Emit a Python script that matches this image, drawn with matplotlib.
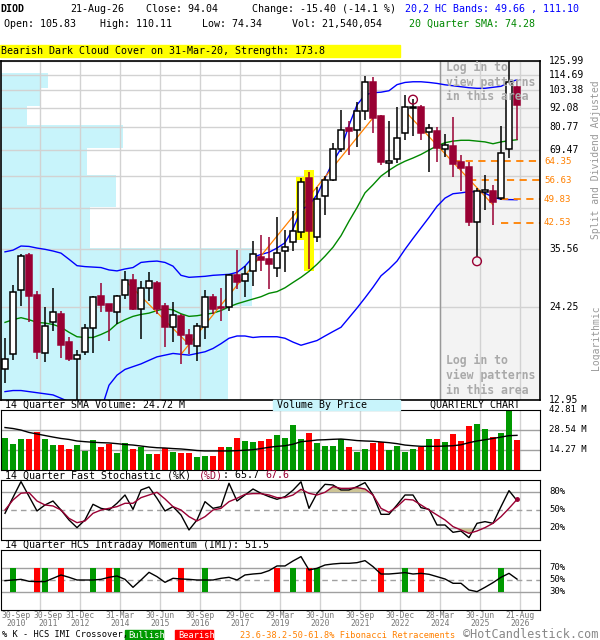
import numpy as np
import matplotlib
matplotlib.use("Agg")
import matplotlib.pyplot as plt
from matplotlib.patches import Rectangle
from matplotlib.ticker import NullLocator

plt.rcParams["font.family"] = "DejaVu Sans Mono"

# quarterly candles, 30-Sep-2010 .. 21-Aug-2026 (65 quarters)
opens = [15.9, 17.6, 27.1, 34.3, 26.2, 17.7, 21.9, 23.1, 19.1, 17.1,
         17.9, 21.0, 26.1, 24.6, 23.4, 26.2, 28.9, 23.9, 27.5, 28.4,
         24.4, 21.2, 22.7, 20.0, 18.6, 21.2, 25.8, 24.2, 24.1, 30.0,
         28.7, 30.7, 33.8, 33.3, 31.5, 35.2, 37.4, 40.0, 57.6, 38.7,
         50.75, 56.7, 70.0, 80.3, 79.1, 89.8, 109.1, 86.9, 63.6, 65.2,
         77.6, 92.0, 92.4, 78.2, 78.6, 70.0, 71.3, 63.8, 62.0, 42.8,
         52.4, 52.5, 50.2, 69.7, 105.83]
highs = [19.6, 28.0, 34.4, 34.8, 26.95, 24.2, 27.4, 23.5, 19.8, 18.1,
         21.6, 26.1, 28.4, 24.7, 26.2, 30.8, 30.1, 28.7, 30.6, 28.8,
         24.9, 25.0, 23.1, 20.9, 21.7, 27.1, 26.4, 27.5, 30.1, 35.4,
         31.8, 37.6, 39.1, 38.6, 44.1, 40.6, 45.9, 57.3, 59.9, 54.2,
         58.4, 72.7, 90.4, 84.0, 95.5, 113.6, 112.8, 87.4, 84.0, 92.4,
         100.1, 97.7, 93.5, 82.7, 81.0, 77.4, 86.4, 67.0, 64.1, 53.6,
         58.6, 54.9, 81.4, 128.0, 110.11]
lows = [14.5, 16.9, 24.3, 21.8, 17.1, 16.7, 20.6, 17.2, 16.8, 12.5,
        17.5, 17.8, 23.4, 19.2, 21.6, 25.5, 23.7, 19.5, 25.2, 23.1,
        18.5, 19.1, 16.5, 17.6, 16.8, 19.5, 23.1, 22.0, 23.6, 27.3,
        25.9, 27.9, 30.8, 27.3, 29.6, 30.6, 35.2, 38.4, 31.2, 37.4,
        44.9, 56.4, 68.2, 67.2, 70.8, 84.6, 77.9, 62.7, 58.0, 63.4,
        74.0, 76.2, 74.0, 59.9, 63.8, 66.2, 58.0, 52.5, 41.6, 33.7,
        46.4, 42.0, 49.7, 65.5, 74.34]
closes = [17.1, 26.8, 34.0, 26.0, 17.9, 21.3, 23.3, 18.7, 17.0, 17.5,
          21.0, 25.8, 24.5, 23.5, 26.1, 28.9, 23.8, 27.4, 28.7, 23.9,
          21.2, 22.9, 20.0, 18.8, 21.35, 25.8, 23.9, 24.0, 30.0, 28.5,
          30.2, 34.4, 33.2, 32.2, 34.7, 36.2, 40.2, 56.1, 40.2, 49.8,
          56.5, 70.0, 79.1, 78.9, 89.8, 109.1, 86.0, 64.1, 64.4, 75.3,
          92.4, 92.6, 77.9, 80.2, 70.3, 71.6, 63.3, 61.3, 42.8, 52.7,
          53.0, 48.9, 67.9, 109.44, 94.04]

# volume, millions of shares
volume = [23.0, 18.6, 22.3, 22.3, 27.3, 22.3, 17.8, 17.8, 15.2, 17.8,
          13.8, 21.4, 16.4, 18.8, 12.1, 19.3, 15.2, 16.4, 11.4, 11.4,
          15.5, 12.8, 12.1, 12.1, 9.5, 10.0, 10.0, 16.4, 16.4, 22.8,
          20.7, 20.0, 20.7, 22.3, 25.0, 23.0, 32.1, 22.3, 26.4, 19.5,
          17.1, 17.1, 21.9, 16.4, 13.1, 15.2, 19.3, 20.2, 14.3, 17.1,
          13.1, 15.2, 16.6, 22.3, 22.3, 20.0, 25.7, 20.7, 31.6, 32.8,
          29.5, 23.5, 26.4, 44.5, 21.54]
vol_sma = [30.3, 29.6, 28.5, 26.8, 25.7, 24.6, 23.5, 22.5, 21.8, 20.7,
           20.2, 19.8, 19.5, 19.3, 18.8, 18.2, 17.8, 17.1, 16.4, 15.9,
           15.7, 15.3, 15.0, 14.5, 13.9, 13.6, 13.6, 13.6, 13.6, 13.8,
           14.1, 14.5, 15.3, 16.2, 16.9, 17.3, 18.4, 20.2, 20.7, 21.4,
           21.6, 21.9, 22.1, 21.6, 21.0, 20.7, 20.5, 20.0, 19.5, 18.8,
           17.8, 17.3, 16.9, 16.9, 16.9, 17.1, 17.3, 18.0, 19.5, 20.7,
           21.6, 22.5, 23.5, 24.5, 24.72]

hc_upper = [35.0, 35.4, 36.4, 36.3, 35.9, 35.6, 35.2, 34.7, 33.3, 31.9,
            31.7, 31.6, 31.5, 31.0, 30.8, 31.2, 31.5, 32.6, 32.8, 32.9,
            32.6, 31.8, 29.9, 29.5, 29.6, 29.7, 29.9, 30.0, 30.1, 30.5,
            31.8, 33.8, 34.4, 34.9, 35.9, 37.2, 40.8, 46.4, 47.8, 51.4,
            57.3, 64.1, 70.0, 81.8, 93.8, 100.4, 101.8, 102.2, 103.2, 107.5,
            109.1, 109.6, 109.6, 109.1, 108.4, 107.4, 106.7, 106.0, 105.3, 104.9,
            104.9, 105.6, 106.3, 109.1, 111.10]
hc_lower = [13.7, 13.8, 13.8, 13.7, 13.6, 13.5, 13.4, 13.1, 12.8, 12.5,
            12.3, 12.1, 12.1, 14.3, 15.3, 15.9, 16.2, 16.5, 16.9, 17.3,
            17.5, 17.7, 17.6, 17.5, 17.7, 17.9, 18.3, 18.9, 19.6, 19.9,
            19.9, 19.7, 19.8, 19.8, 19.8, 19.6, 19.1, 18.7, 19.0, 19.3,
            19.9, 20.5, 21.1, 22.5, 24.0, 25.7, 27.6, 29.8, 31.2, 32.9,
            35.6, 38.3, 41.1, 44.1, 47.5, 50.2, 51.7, 52.0, 52.4, 52.4,
            51.9, 50.5, 49.8, 49.7, 49.66]
sma20 = [21.8, 22.2, 22.5, 22.2, 21.8, 21.7, 21.5, 21.1, 20.4, 19.8,
         19.7, 19.7, 20.1, 20.6, 21.6, 22.2, 22.7, 23.0, 23.2, 23.6,
         23.9, 23.7, 23.1, 22.7, 22.8, 23.0, 23.2, 23.6, 24.2, 24.7,
         25.1, 25.5, 25.9, 26.5, 26.8, 27.5, 28.5, 29.5, 30.7, 32.2,
         34.0, 36.1, 39.0, 43.0, 47.1, 52.0, 54.9, 58.2, 60.5, 62.6,
         64.3, 65.7, 67.3, 69.3, 71.3, 72.8, 73.6, 74.0, 74.0, 73.6,
         73.2, 72.3, 73.2, 73.8, 74.28]

stoch_k = [44.5, 71.0, 97.3, 72.8, 48.4, 58.4, 65.0, 50.0, 33.4, 20.6,
           33.4, 59.5, 52.8, 50.0, 61.2, 75.0, 51.1, 83.4, 88.4, 69.5,
           48.4, 55.6, 41.7, 16.7, 33.4, 63.9, 52.8, 55.6, 94.5, 65.0,
           75.0, 85.0, 77.8, 72.3, 67.8, 72.3, 83.0, 97.0, 52.8, 77.8,
           92.8, 91.7, 83.4, 83.4, 88.9, 95.6, 75.0, 42.8, 42.8, 58.4,
           75.0, 75.0, 53.9, 51.1, 25.0, 25.0, 12.8, 15.0, 3.9, 27.8,
           30.6, 27.8, 55.6, 82.3, 65.7]
stoch_d = [50.0, 66.7, 78.0, 79.0, 65.0, 58.4, 56.7, 50.0, 36.1, 28.9,
           31.7, 44.5, 50.0, 52.8, 55.6, 61.2, 61.2, 70.6, 75.0, 79.5,
           68.4, 55.6, 50.0, 38.9, 31.7, 38.9, 50.0, 52.8, 63.9, 69.5,
           76.1, 77.3, 77.3, 75.0, 70.6, 70.6, 75.0, 84.5, 77.8, 75.0,
           79.5, 88.9, 86.1, 86.1, 87.3, 85.0, 75.0, 52.8, 46.1, 55.6,
           67.8, 66.7, 58.4, 50.0, 41.7, 33.4, 22.3, 16.7, 11.1, 15.0,
           20.6, 27.8, 38.9, 52.8, 67.6]
imi = [48.9, 50.0, 51.1, 47.8, 47.3, 47.3, 52.8, 58.4, 54.5, 50.0,
       50.0, 50.0, 51.1, 54.5, 56.7, 51.1, 37.8, 50.0, 62.8, 55.6,
       46.1, 52.8, 51.7, 51.1, 50.0, 50.0, 50.0, 52.8, 54.5, 50.0,
       58.4, 60.0, 61.1, 65.6, 73.4, 73.4, 81.7, 89.0, 66.7, 69.5,
       75.0, 76.7, 77.8, 77.8, 78.9, 82.3, 72.3, 60.0, 60.0, 61.1,
       62.3, 60.0, 61.1, 59.5, 55.6, 51.7, 44.5, 44.5, 33.4, 30.6,
       37.8, 45.6, 54.5, 61.1, 51.5]
bull_cross = [1, 5, 11, 14, 25, 36, 39, 50, 62]
bear_cross = [4, 7, 13, 22, 34, 38, 47, 52]

price_levels = [12.95, 24.25, 35.56, 46.86, 58.17, 69.47, 80.77, 92.08, 103.38, 114.69, 125.99]
price_labels = [12.95, 24.25, 35.56, 69.47, 80.77, 92.08, 103.38, 114.69, 125.99]
vbp_share = [42.2, 46.5, 16.6, 21.3, 16.0, 22.6, 4.8, 7.4, 8.7, 0.0]  # % of panel width per price band

fib_levels = [64.35, 56.63, 49.83, 42.53]
fib_from = [56, 58, 62, 62]
trend_lines = [((15, 28.9), (23, 18.8)), ((22, 17.6), (46, 86.0)), ((50, 90.0), (61, 48.0))]
circle_high = [51]
circle_low = [59]
pattern_idx = [37, 38]

date_labels = ["30-Sep\n2010", "30-Sep\n2011", "31-Dec\n2012", "31-Mar\n2014", "30-Jun\n2015",
               "30-Sep\n2016", "29-Dec\n2017", "29-Mar\n2019", "30-Jun\n2020", "30-Sep\n2021",
               "30-Dec\n2022", "28-Mar\n2024", "30-Jun\n2025", "21-Aug\n2026"]

DARK_RED = "#990033"
W, H = 600, 640
FS = 7.2
n = len(closes)
x = np.arange(n)
XLIM = (-0.5, 66.875)
grid_x = [5 * k - 0.625 for k in range(1, 14)]
label_x = [1.35, 5.375] + grid_x[1:]


def px_rect(x0, y0, x1, y1):
    return [x0 / W, 1 - y1 / H, (x1 - x0) / W, (y1 - y0) / H]


def ftext(px, py, s, **kw):
    kw.setdefault("fontsize", FS)
    kw.setdefault("va", "center")
    return fig.text(px / W, 1 - py / H, s, **kw)


def frect(x0, y0, x1, y1, color):
    fig.patches.append(Rectangle((x0 / W, 1 - y1 / H), (x1 - x0) / W, (y1 - y0) / H,
                                 transform=fig.transFigure, color=color, zorder=0))


def right_label(ax, v, s, color="black", size=FS, px_off=9):
    ax.text(1 + px_off / 539, v, s, transform=ax.get_yaxis_transform(), va="center",
            ha="left", fontsize=size, color=color, clip_on=False)


fig = plt.figure(figsize=(6, 6.4), dpi=100)

# ---- header
ftext(0, 9, "DIOD", fontweight="bold")
ftext(70, 9, "21-Aug-26")
ftext(146, 9, "Close: 94.04")
ftext(252, 9, "Change: -15.40 (-14.1 %)")
ftext(405, 9, "20,2 HC Bands: 49.66 , 111.10", color="#0000ff")
ftext(4, 24, "Open: 105.83")
ftext(100, 24, "High: 110.11")
ftext(202, 24, "Low: 74.34")
ftext(292, 24, "Vol: 21,540,054")
ftext(409, 24, "20 Quarter SMA: 74.28", color="#008800")
frect(0, 45, 400, 57, "#ffff00")
ftext(1, 51, "Bearish Dark Cloud Cover on 31-Mar-20, Strength: 173.8")

# ---- main price panel
main_rect = px_rect(1, 61, 540, 400)
ax_vbp = fig.add_axes(main_rect)
ax_vbp.set_yscale("log")
ax_vbp.set_ylim(12.95, 124.1)
ax_vbp.set_xlim(0, 100)
ax_vbp.barh(price_levels[:-1], vbp_share, height=np.diff(price_levels), align="edge",
            color="#c8f4fb", linewidth=0)
ax_vbp.axis("off")

ax = fig.add_axes(main_rect)
ax.patch.set_visible(False)
ax.set_yscale("log")
ax.set_ylim(12.95, 124.1)
ax.set_xlim(*XLIM)
ax.set_yticks(price_levels)
ax.yaxis.set_minor_locator(NullLocator())
ax.set_yticklabels([])
ax.set_xticks(grid_x)
ax.set_xticklabels([])
ax.tick_params(length=0)
ax.set_axisbelow(True)
ax.grid(color="#d2d2d2", lw=1)

ax.axvspan(grid_x[10], XLIM[1], color="#f3f3f3", zorder=0.2, lw=0)
ax.axvline(grid_x[10], color="#999999", lw=1, zorder=0.6)
for py in (66, 359):
    for j, line in enumerate(["Log in to", "view patterns", "in this area"]):
        ftext(446, py + 15 * j + 1, line, color="#a9a9a9", fontsize=8.3, fontweight="bold")

# pattern highlight
for i in pattern_idx:
    ax.bar(i, highs[i] * 1.012 - lows[i] * 0.988, bottom=lows[i] * 0.988, width=1.35,
           color="#ffff00", zorder=1.5, lw=0)

ax.plot(x, hc_upper, color="#0000ff", lw=1, zorder=2)
ax.plot(x, hc_lower, color="#0000ff", lw=1, zorder=2)
ax.plot(x, sma20, color="#008800", lw=1, zorder=2)

for (a, pa), (b, pb) in trend_lines:
    ax.plot([a, b], [pa, pb], color="#ff8000", lw=0.9, zorder=2.5)

for lvl, start in zip(fib_levels, fib_from):
    ax.plot([start, XLIM[1]], [lvl, lvl], color="#ff8000", lw=1.3, ls=(0, (4, 3)), zorder=2)
    right_label(ax, lvl, f"{lvl:.2f}", color="#ff8000", size=6.6, px_off=4)

up = np.array(closes) >= np.array(opens)
o = np.array(opens)
c = np.array(closes)
wick_col = np.where(up, "black", DARK_RED)
ax.vlines(x, lows, highs, colors=wick_col, lw=1.1, zorder=3)
ax.bar(x, np.abs(c - o), bottom=np.minimum(o, c), width=0.8,
       color=np.where(up, "white", DARK_RED), edgecolor=wick_col, lw=1.1, zorder=3.5)

ax.scatter(circle_high, [highs[i] * 0.995 for i in circle_high], s=40, facecolors="none",
           edgecolors=DARK_RED, lw=1, zorder=4)
ax.scatter(circle_low, [lows[i] * 0.975 for i in circle_low], s=40, facecolors="none",
           edgecolors=DARK_RED, lw=1, zorder=4)

for v in price_labels:
    right_label(ax, v, f"{v:.2f}", size=7)
for sp in ax.spines.values():
    sp.set_linewidth(1.2)

ftext(596, 160, "Split and Dividend Adjusted", rotation=90, ha="center", color="#999999", fontsize=7)
ftext(596, 338, "Logarithmic", rotation=90, ha="center", color="#999999", fontsize=7)

# ---- volume panel
frect(273, 400, 400, 410, "#c8f4fb")
ftext(5, 405, "14 Quarter SMA Volume: 24.72 M")
ftext(277, 405, "Volume By Price")
ftext(430, 405, "QUARTERLY CHART")

ax_v = fig.add_axes(px_rect(1, 410, 540, 470))
ax_v.set_xlim(*XLIM)
ax_v.set_ylim(0, 42.81)
ax_v.bar(x, volume, width=0.75, color=np.where(up, "#009900", "#ff0000"), zorder=2)
ax_v.plot(x, vol_sma, color="black", lw=1, zorder=3)
ax_v.set_yticks([14.27, 28.54])
ax_v.set_xticks(grid_x)
ax_v.set_xticklabels([])
ax_v.set_yticklabels([])
ax_v.tick_params(length=0)
ax_v.set_axisbelow(True)
ax_v.xaxis.grid(color="#d2d2d2", lw=1)
ax_v.yaxis.grid(color="#a0a0a0", lw=1)
for v in (42.81, 28.54, 14.27):
    right_label(ax_v, v, f"{v:.2f} M", size=6.5)

# ---- stochastic panel
ftext(5, 475, "14 Quarter Fast Stochastic (%K) ")
ftext(5 + 32 * 6.05, 475, "(%D)", color=DARK_RED)
ftext(5 + 36 * 6.05, 475, ": 65.7")
ftext(5 + 43 * 6.05, 475, "67.6", color=DARK_RED)

ax_s = fig.add_axes(px_rect(1, 480, 540, 540))
ax_s.set_xlim(*XLIM)
ax_s.set_ylim(0, 100)
k = np.array(stoch_k)
d = np.array(stoch_d)
lo_kd = np.minimum(k, d)
hi_kd = np.maximum(k, d)
ax_s.fill_between(x, 80, lo_kd, where=lo_kd > 80, interpolate=True, color="#cdc495", lw=0, zorder=1)
ax_s.fill_between(x, 20, hi_kd, where=hi_kd < 20, interpolate=True, color="#cdc495", lw=0, zorder=1)
ax_s.plot(x, k, color="black", lw=1, zorder=3)
ax_s.plot(x, d, color=DARK_RED, lw=1, zorder=3)
ax_s.plot(x[-1], d[-1], "o", color=DARK_RED, ms=2.5, zorder=4)
ax_s.axhline(50, color="#a0a0a0", lw=1, ls=(0, (4, 3)), zorder=0.6)
ax_s.set_yticks([20, 80])
ax_s.set_xticks(grid_x)
ax_s.set_xticklabels([])
ax_s.set_yticklabels([])
ax_s.tick_params(length=0)
ax_s.set_axisbelow(True)
ax_s.xaxis.grid(color="#d2d2d2", lw=1)
ax_s.yaxis.grid(color="#a0a0a0", lw=1)
for v in (80, 50, 20):
    right_label(ax_s, v, f"{v}%", size=6.5)

# ---- IMI panel
ftext(5, 545, "14 Quarter HCS Intraday Momentum (IMI): 51.5")

ax_i = fig.add_axes(px_rect(1, 550, 540, 610))
ax_i.set_xlim(*XLIM)
ax_i.set_ylim(0, 100)
ax_i.bar(bull_cross, 40, bottom=30, width=0.75, color="#009900", zorder=2)
ax_i.bar(bear_cross, 40, bottom=30, width=0.75, color="#ff0000", zorder=2)
ax_i.plot(x, imi, color="black", lw=1, zorder=3)
ax_i.axhline(50, color="#a0a0a0", lw=1, ls=(0, (4, 3)), zorder=0.6)
ax_i.set_yticks([30, 70])
ax_i.set_yticklabels([])
ax_i.xaxis.remove_overlapping_locs = False
ax_i.set_xticks(grid_x)
ax_i.set_xticklabels([])
ax_i.set_xticks(label_x, date_labels, minor=True)
ax_i.tick_params(which="both", length=0)
ax_i.tick_params(axis="x", which="minor", labelsize=5.8, labelcolor="#777777", pad=1)
for lbl in ax_i.get_xticklabels(minor=True):
    lbl.set_linespacing(0.85)
ax_i.set_axisbelow(True)
ax_i.xaxis.grid(color="#d2d2d2", lw=1, which="major")
ax_i.yaxis.grid(color="#a0a0a0", lw=1)
for v in (70, 50, 30):
    right_label(ax_i, v, f"{v}%", size=6.5)

# ---- legend row
ftext(2, 635, "% K - HCS IMI Crossover,", fontsize=6.2)
frect(125, 630, 163, 640, "#009900")
ftext(128, 635, "Bullish", fontsize=6.2, color="white")
frect(175, 630, 213, 640, "#ff0000")
ftext(178, 635, "Bearish", fontsize=6.2, color="white")
ftext(240, 635, "23.6-38.2-50-61.8% Fibonacci Retracements", fontsize=6.2, color="#ff8000")
ftext(463, 634, "\u00a9HotCandlestick.com", fontsize=8.6, color="#888888")

fig.savefig("out.png", dpi=100)
